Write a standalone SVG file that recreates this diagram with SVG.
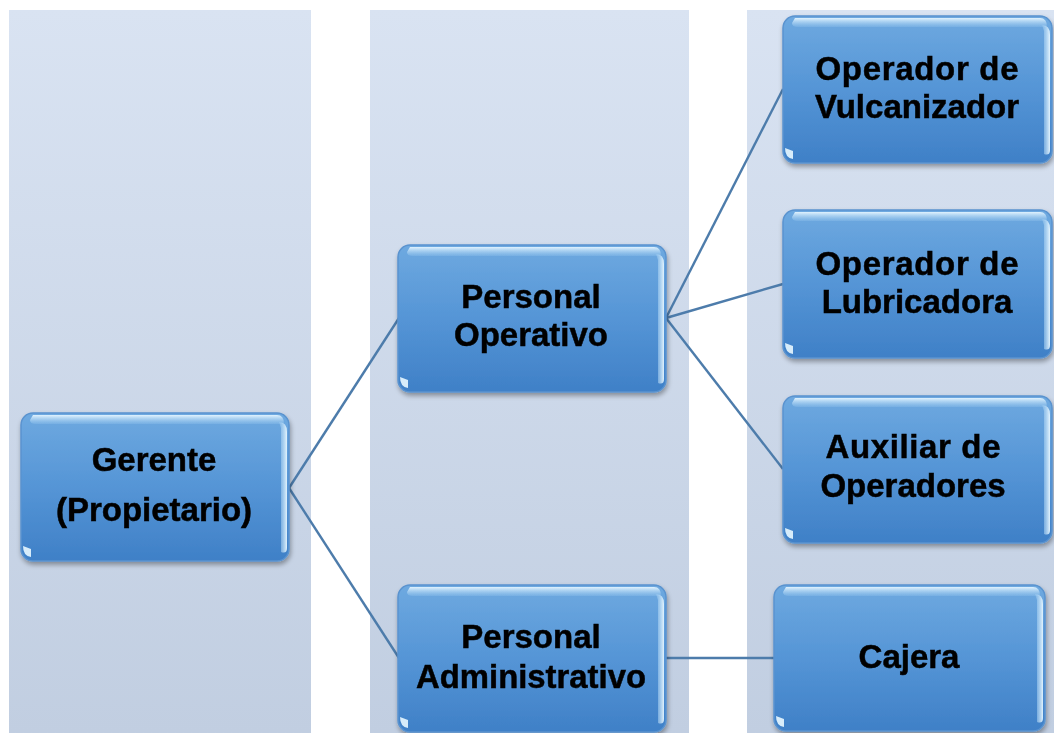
<svg xmlns="http://www.w3.org/2000/svg" width="1054" height="733" viewBox="0 0 1054 733">
<defs>
<linearGradient id="bg" x1="0" y1="0" x2="0" y2="1">
<stop offset="0" stop-color="#d9e3f2"/>
<stop offset="1" stop-color="#c1cee1"/>
</linearGradient>
<linearGradient id="nodeFill" x1="0" y1="0" x2="0" y2="1">
<stop offset="0" stop-color="#6ea9e0"/>
<stop offset="0.5" stop-color="#5595d6"/>
<stop offset="1" stop-color="#3f80c7"/>
</linearGradient>
<linearGradient id="topHi" x1="0" y1="0" x2="0" y2="1">
<stop offset="0" stop-color="#e6f6ff" stop-opacity="0.95"/>
<stop offset="1" stop-color="#a9d4f5" stop-opacity="0.2"/>
</linearGradient>
<linearGradient id="rightHi" x1="0" y1="0" x2="1" y2="0">
<stop offset="0" stop-color="#a9d4f5" stop-opacity="0.3"/>
<stop offset="1" stop-color="#eaf8ff" stop-opacity="0.95"/>
</linearGradient>
<filter id="shadow" x="-10%" y="-10%" width="120%" height="125%">
<feGaussianBlur in="SourceAlpha" stdDeviation="2.5"/>
<feOffset dx="1" dy="3" result="b"/>
<feComponentTransfer><feFuncA type="linear" slope="0.35"/></feComponentTransfer>
<feMerge><feMergeNode/><feMergeNode in="SourceGraphic"/></feMerge>
</filter>
</defs>
<style>
.col { fill: url(#bg); }
.box { fill: url(#nodeFill); stroke: #5a93cf; stroke-width: 1.5; }
.top { fill: url(#topHi); }
.rt { fill: url(#rightHi); }
.corner { fill: #e8f7ff; opacity: 0.9; }
.lbl { font-family: "Liberation Sans", Arial, sans-serif; font-weight: bold; font-size: 33px; fill: #000; stroke: #000; stroke-width: 0.5; text-anchor: middle; }
.conn { stroke: #4d7cab; stroke-width: 2.4; fill: none; }
</style>
<rect width="1054" height="733" fill="#ffffff"/>
<g id="columns">
<rect class="col" x="9" y="10" width="302" height="723"/>
<rect class="col" x="370" y="10" width="319" height="723"/>
<rect class="col" x="747" y="10" width="307" height="723"/>
</g>
<g id="connectors">
<line class="conn" x1="289" y1="488" x2="399" y2="318"/>
<line class="conn" x1="289" y1="488" x2="399" y2="658"/>
<line class="conn" x1="666" y1="318" x2="783" y2="89"/>
<line class="conn" x1="666" y1="318" x2="783" y2="284"/>
<line class="conn" x1="666" y1="318" x2="783" y2="469"/>
<line class="conn" x1="666" y1="658" x2="774" y2="658"/>
</g>
<g id="node-gerente" filter="url(#shadow)">
<rect class="box" x="21" y="413" width="268" height="148" rx="12"/>
<path class="top" d="M33 415 H277 Q284 415 284 424 L276 424 H36 Q30 424 30 420 Z"/>
<path class="rt" d="M279 422 Q287 422 287 432 V548 Q287 554 281 552 V428 Z"/>
<path class="corner" d="M23 546 Q23 556 31 557 L31 549 Z"/>
<text class="lbl" x="154" y="471">Gerente</text>
<text class="lbl" x="154" y="521">(Propietario)</text>
</g>
<g id="node-personal-operativo" filter="url(#shadow)">
<rect class="box" x="398" y="245" width="268" height="147" rx="12"/>
<path class="top" d="M410 247 H654 Q661 247 661 256 L653 256 H413 Q407 256 407 252 Z"/>
<path class="rt" d="M656 254 Q664 254 664 264 V379 Q664 385 658 383 V260 Z"/>
<path class="corner" d="M400 377 Q400 387 408 388 L408 380 Z"/>
<text class="lbl" x="531" y="308">Personal</text>
<text class="lbl" x="531" y="346">Operativo</text>
</g>
<g id="node-personal-administrativo" filter="url(#shadow)">
<rect class="box" x="398" y="585" width="268" height="147" rx="12"/>
<path class="top" d="M410 587 H654 Q661 587 661 596 L653 596 H413 Q407 596 407 592 Z"/>
<path class="rt" d="M656 594 Q664 594 664 604 V719 Q664 725 658 723 V600 Z"/>
<path class="corner" d="M400 717 Q400 727 408 728 L408 720 Z"/>
<text class="lbl" x="531" y="648">Personal</text>
<text class="lbl" x="531" y="688" textLength="230" lengthAdjust="spacingAndGlyphs">Administrativo</text>
</g>
<g id="node-vulcanizador" filter="url(#shadow)">
<rect class="box" x="783" y="16" width="269" height="147" rx="12"/>
<path class="top" d="M795 18 H1040 Q1047 18 1047 27 L1039 27 H798 Q792 27 792 23 Z"/>
<path class="rt" d="M1042 25 Q1050 25 1050 35 V150 Q1050 156 1044 154 V31 Z"/>
<path class="corner" d="M785 148 Q785 158 793 159 L793 151 Z"/>
<text class="lbl" x="917" y="80" textLength="203" lengthAdjust="spacing">Operador de</text>
<text class="lbl" x="917" y="118">Vulcanizador</text>
</g>
<g id="node-lubricadora" filter="url(#shadow)">
<rect class="box" x="783" y="210" width="269" height="148" rx="12"/>
<path class="top" d="M795 212 H1040 Q1047 212 1047 221 L1039 221 H798 Q792 221 792 217 Z"/>
<path class="rt" d="M1042 219 Q1050 219 1050 229 V345 Q1050 351 1044 349 V225 Z"/>
<path class="corner" d="M785 343 Q785 353 793 354 L793 346 Z"/>
<text class="lbl" x="917" y="275" textLength="203" lengthAdjust="spacing">Operador de</text>
<text class="lbl" x="917" y="313">Lubricadora</text>
</g>
<g id="node-auxiliar" filter="url(#shadow)">
<rect class="box" x="783" y="396" width="269" height="147" rx="12"/>
<path class="top" d="M795 398 H1040 Q1047 398 1047 407 L1039 407 H798 Q792 407 792 403 Z"/>
<path class="rt" d="M1042 405 Q1050 405 1050 415 V530 Q1050 536 1044 534 V411 Z"/>
<path class="corner" d="M785 528 Q785 538 793 539 L793 531 Z"/>
<text class="lbl" x="913" y="458" textLength="175" lengthAdjust="spacing">Auxiliar de</text>
<text class="lbl" x="913" y="497">Operadores</text>
</g>
<g id="node-cajera" filter="url(#shadow)">
<rect class="box" x="774" y="585" width="271" height="146" rx="12"/>
<path class="top" d="M786 587 H1033 Q1040 587 1040 596 L1032 596 H789 Q783 596 783 592 Z"/>
<path class="rt" d="M1035 594 Q1043 594 1043 604 V718 Q1043 724 1037 722 V600 Z"/>
<path class="corner" d="M776 716 Q776 726 784 727 L784 719 Z"/>
<text class="lbl" x="909" y="668">Cajera</text>
</g>
</svg>
